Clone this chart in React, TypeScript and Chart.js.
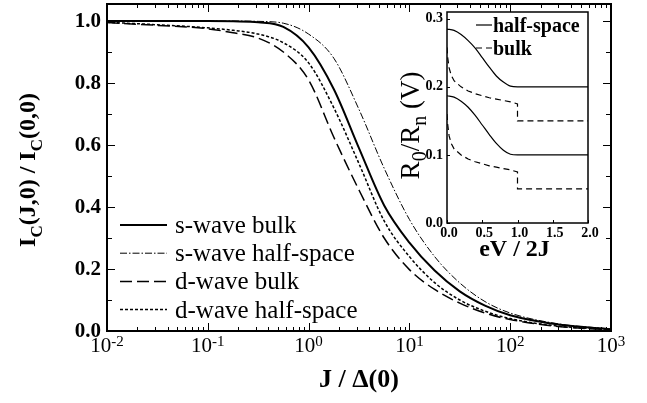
import React, { useEffect, useRef } from "react";
import { Chart, registerables } from "chart.js";

Chart.register(...registerables);

const SERIF = "'Liberation Serif', 'Times New Roman', serif";

// ---------- Main chart data ----------
const J_VALUES = [0.01, 0.0316, 0.1, 0.178, 0.316, 0.562, 1, 1.78, 3.16, 5.62, 10, 17.8, 31.6, 56.2, 100, 316, 1000];
const S_WAVE_BULK = [1.0, 1.0, 1.0, 0.999, 0.996, 0.981, 0.915, 0.78, 0.59, 0.405, 0.285, 0.195, 0.128, 0.082, 0.051, 0.02, 0.006];
const S_WAVE_HALF = [1.0, 1.0, 1.0, 1.0, 0.999, 0.993, 0.958, 0.88, 0.715, 0.525, 0.36, 0.24, 0.155, 0.095, 0.058, 0.022, 0.007];
const D_WAVE_BULK = [0.995, 0.986, 0.975, 0.962, 0.945, 0.9, 0.81, 0.625, 0.455, 0.3, 0.198, 0.134, 0.09, 0.058, 0.037, 0.014, 0.004];
const D_WAVE_HALF = [0.996, 0.988, 0.978, 0.97, 0.958, 0.93, 0.865, 0.72, 0.54, 0.355, 0.24, 0.156, 0.1, 0.064, 0.04, 0.015, 0.005];
const MAIN_LABELS = ["s-wave bulk", "s-wave half-space", "d-wave bulk", "d-wave half-space"];

const X_DECADE_EXPONENTS = [-2, -1, 0, 1, 2, 3];
const X_MINOR_MULTIPLIERS = [2, 3, 4, 5, 6, 7, 8, 9];
const Y_MAJOR_TICKS = [0, 0.2, 0.4, 0.6, 0.8, 1.0];
const Y_MAJOR_LABELS = ["0.0", "0.2", "0.4", "0.6", "0.8", "1.0"];
const Y_MINOR_TICKS = [0.1, 0.3, 0.5, 0.7, 0.9];

// ---------- Inset data ----------
const HS_X = [0, 0.1, 0.2, 0.3, 0.4, 0.5, 0.6, 0.7, 0.8, 0.9, 1.0, 2.0];
const HS_UPPER = [0.285, 0.283, 0.277, 0.268, 0.257, 0.243, 0.229, 0.216, 0.207, 0.201, 0.2, 0.2];
const HS_LOWER = [0.187, 0.185, 0.179, 0.17, 0.158, 0.144, 0.13, 0.117, 0.107, 0.101, 0.1, 0.1];
const BULK_X = [0, 0.01, 0.03, 0.06, 0.1, 0.2, 0.3, 0.4, 0.5, 0.6, 0.7, 0.8, 0.9, 1.0, 1.0, 2.0];
const BULK_UPPER = [0.258, 0.243, 0.228, 0.217, 0.209, 0.2, 0.194, 0.19, 0.187, 0.184, 0.182, 0.18, 0.178, 0.175, 0.15, 0.15];
const BULK_LOWER = [0.16, 0.145, 0.128, 0.117, 0.109, 0.1, 0.094, 0.09, 0.087, 0.084, 0.082, 0.08, 0.078, 0.075, 0.05, 0.05];
const INSET_LEGEND = ["half-space", "bulk"];
const INSET_X_TICKS = [0, 0.5, 1.0, 1.5, 2.0];
const INSET_X_LABELS = ["0.0", "0.5", "1.0", "1.5", "2.0"];
const INSET_Y_TICKS = [0, 0.1, 0.2, 0.3];
const INSET_Y_LABELS = ["0.0", "0.1", "0.2", "0.3"];

type Part = { t: string; sub?: boolean };

function drawRich(ctx: CanvasRenderingContext2D, parts: Part[], cx: number, cy: number, size: number, weight: string, rotate: boolean, subScale: number) {
  const subSize = Math.round(size * subScale);
  const fontFor = (p: Part) => `${weight} ${p.sub ? subSize : size}px ${SERIF}`;
  let total = 0;
  const widths = parts.map((p) => {
    ctx.font = fontFor(p);
    const w = ctx.measureText(p.t).width;
    total += w;
    return w;
  });
  ctx.save();
  ctx.translate(cx, cy);
  if (rotate) ctx.rotate(-Math.PI / 2);
  ctx.textBaseline = "alphabetic";
  ctx.textAlign = "left";
  let x = -total / 2;
  const base = size * 0.33;
  parts.forEach((p, i) => {
    ctx.font = fontFor(p);
    ctx.fillText(p.t, x, base + (p.sub ? size * 0.28 : 0));
    x += widths[i];
  });
  ctx.restore();
}

function legendLine(ctx: CanvasRenderingContext2D, ds: any, x1: number, x2: number, y: number) {
  ctx.save();
  ctx.lineWidth = ds.borderWidth;
  ctx.setLineDash(ds.borderDash || []);
  ctx.beginPath();
  ctx.moveTo(x1, y);
  ctx.lineTo(x2, y);
  ctx.stroke();
  ctx.restore();
}

const mainDecor = {
  id: "mainDecor",
  afterDraw(chart: any) {
    const { ctx, chartArea: a, scales } = chart;
    const xs = scales.x;
    const ys = scales.y;
    ctx.save();
    ctx.strokeStyle = "#000";
    ctx.fillStyle = "#000";
    ctx.lineWidth = 1;
    ctx.beginPath();
    X_DECADE_EXPONENTS.forEach((e) => {
      const mults = e === 3 ? [1] : [1, ...X_MINOR_MULTIPLIERS];
      mults.forEach((m) => {
        const px = Math.round(xs.getPixelForValue(m * Math.pow(10, e))) + 0.5;
        const len = m === 1 ? 8 : 4;
        ctx.moveTo(px, a.bottom);
        ctx.lineTo(px, a.bottom - len);
        ctx.moveTo(px, a.top);
        ctx.lineTo(px, a.top + len);
      });
    });
    const yt = (v: number, len: number) => {
      const py = Math.round(ys.getPixelForValue(v)) + 0.5;
      ctx.moveTo(a.left, py);
      ctx.lineTo(a.left + len, py);
      ctx.moveTo(a.right, py);
      ctx.lineTo(a.right - len, py);
    };
    Y_MAJOR_TICKS.forEach((v) => yt(v, 8));
    Y_MINOR_TICKS.forEach((v) => yt(v, 5));
    ctx.stroke();
    ctx.lineWidth = 2;
    ctx.strokeRect(a.left, a.top, a.right - a.left, a.bottom - a.top);

    // y tick labels
    ctx.font = `bold 21px ${SERIF}`;
    ctx.textAlign = "right";
    ctx.textBaseline = "middle";
    Y_MAJOR_TICKS.forEach((v, i) => {
      ctx.fillText(Y_MAJOR_LABELS[i], a.left - 6, ys.getPixelForValue(v) + 1);
    });

    // x tick labels: 10^e
    ctx.textAlign = "left";
    ctx.textBaseline = "alphabetic";
    X_DECADE_EXPONENTS.forEach((e) => {
      const px = xs.getPixelForValue(Math.pow(10, e));
      ctx.font = `21px ${SERIF}`;
      const w1 = ctx.measureText("10").width;
      ctx.font = `15px ${SERIF}`;
      const ex = String(e);
      const w2 = ctx.measureText(ex).width;
      const start = px - (w1 + w2) / 2;
      ctx.font = `21px ${SERIF}`;
      ctx.fillText("10", start, a.bottom + 21);
      ctx.font = `15px ${SERIF}`;
      ctx.fillText(ex, start + w1, a.bottom + 15);
    });

    // axis titles
    ctx.font = `bold 26px ${SERIF}`;
    ctx.textAlign = "center";
    ctx.textBaseline = "middle";
    ctx.fillText("J / \u0394(0)", (a.left + a.right) / 2, a.bottom + 49);
    drawRich(
      ctx,
      [{ t: "I" }, { t: "C", sub: true }, { t: "(J,0) / I" }, { t: "C", sub: true }, { t: "(0,0)" }],
      27,
      170,
      24,
      "bold",
      true,
      0.7
    );

    // legend
    const ds = chart.data.datasets;
    ds.forEach((d: any, i: number) => {
      const y = 225 + i * 28.2;
      legendLine(ctx, d, a.left + 13, a.left + 60, y);
      ctx.font = `25px ${SERIF}`;
      ctx.textAlign = "left";
      ctx.textBaseline = "alphabetic";
      ctx.fillText(d.label, a.left + 68, y + 8);
    });
    ctx.restore();
  },
};

const insetDecor = {
  id: "insetDecor",
  beforeDatasetsDraw(chart: any) {
    const { ctx, chartArea: a } = chart;
    ctx.save();
    ctx.fillStyle = "#fff";
    ctx.fillRect(a.left, a.top, a.right - a.left, a.bottom - a.top);
    ctx.restore();
  },
  afterDraw(chart: any) {
    const { ctx, chartArea: a, scales } = chart;
    const xs = scales.x;
    const ys = scales.y;
    ctx.save();
    ctx.strokeStyle = "#000";
    ctx.fillStyle = "#000";
    ctx.lineWidth = 1;
    ctx.beginPath();
    INSET_X_TICKS.forEach((v) => {
      const px = Math.round(xs.getPixelForValue(v)) + 0.5;
      ctx.moveTo(px, a.bottom);
      ctx.lineTo(px, a.bottom - 3);
    });
    INSET_Y_TICKS.forEach((v) => {
      const py = Math.round(ys.getPixelForValue(v)) + 0.5;
      ctx.moveTo(a.left, py);
      ctx.lineTo(a.left + 3, py);
    });
    ctx.stroke();
    ctx.lineWidth = 1.5;
    ctx.strokeRect(a.left, a.top, a.right - a.left, a.bottom - a.top);

    ctx.font = `bold 14px ${SERIF}`;
    ctx.textAlign = "right";
    ctx.textBaseline = "middle";
    INSET_Y_TICKS.forEach((v, i) => ctx.fillText(INSET_Y_LABELS[i], a.left - 4, ys.getPixelForValue(v)));
    ctx.textAlign = "center";
    ctx.textBaseline = "top";
    INSET_X_TICKS.forEach((v, i) => ctx.fillText(INSET_X_LABELS[i], xs.getPixelForValue(v) + 2, a.bottom + 3));

    ctx.font = `bold 24px ${SERIF}`;
    ctx.textBaseline = "middle";
    ctx.fillText("eV / 2J", (a.left + a.right) / 2 - 3, a.bottom + 27);
    drawRich(
      ctx,
      [{ t: "R" }, { t: "0", sub: true }, { t: "/R" }, { t: "n", sub: true }, { t: " (V)" }],
      a.left - 37,
      (a.top + a.bottom) / 2 + 8,
      27,
      "normal",
      true,
      0.75
    );

    // inset legend
    const ds = chart.data.datasets;
    [ds[0], ds[2]].forEach((d: any, i: number) => {
      const y = a.top + 13 + i * 23;
      legendLine(ctx, d, a.left + 29, a.left + 45, y);
      ctx.font = `bold 20px ${SERIF}`;
      ctx.textAlign = "left";
      ctx.textBaseline = "alphabetic";
      ctx.fillText(INSET_LEGEND[i], a.left + 46, y + 7);
    });
    ctx.restore();
  },
};

function pts(xs: number[], ys: number[]) {
  return xs.map((x, i) => ({ x, y: ys[i] }));
}

export default function App() {
  const mainRef = useRef<HTMLCanvasElement>(null);
  const insetRef = useRef<HTMLCanvasElement>(null);

  useEffect(() => {
    const mainCfg: any = {
      type: "line",
      data: {
        datasets: [
          { label: MAIN_LABELS[0], data: pts(J_VALUES, S_WAVE_BULK), borderColor: "#000", borderWidth: 2, borderDash: [], cubicInterpolationMode: "monotone" },
          { label: MAIN_LABELS[1], data: pts(J_VALUES, S_WAVE_HALF), borderColor: "#000", borderWidth: 1, borderDash: [7, 2, 1.5, 2], cubicInterpolationMode: "monotone" },
          { label: MAIN_LABELS[2], data: pts(J_VALUES, D_WAVE_BULK), borderColor: "#000", borderWidth: 1.5, borderDash: [12, 5], cubicInterpolationMode: "monotone" },
          { label: MAIN_LABELS[3], data: pts(J_VALUES, D_WAVE_HALF), borderColor: "#000", borderWidth: 1.5, borderDash: [3, 2], cubicInterpolationMode: "monotone" },
        ],
      },
      options: {
        animation: false,
        responsive: false,
        devicePixelRatio: 1,
        layout: { padding: { left: 107, top: 4, right: 36, bottom: 72 } },
        plugins: { legend: { display: false }, tooltip: { enabled: false } },
        elements: { point: { radius: 0 } },
        scales: {
          x: { type: "logarithmic", min: 0.01, max: 1000, display: false },
          y: { type: "linear", min: 0, max: 1.055, display: false },
        },
      },
      plugins: [mainDecor],
    };
    const insetCfg: any = {
      type: "line",
      data: {
        datasets: [
          { label: INSET_LEGEND[0], data: pts(HS_X, HS_UPPER), borderColor: "#000", borderWidth: 1.2, borderDash: [], cubicInterpolationMode: "monotone" },
          { label: INSET_LEGEND[0], data: pts(HS_X, HS_LOWER), borderColor: "#000", borderWidth: 1.2, borderDash: [], cubicInterpolationMode: "monotone" },
          { label: INSET_LEGEND[1], data: pts(BULK_X, BULK_UPPER), borderColor: "#000", borderWidth: 1.2, borderDash: [6, 4], tension: 0 },
          { label: INSET_LEGEND[1], data: pts(BULK_X, BULK_LOWER), borderColor: "#000", borderWidth: 1.2, borderDash: [6, 4], tension: 0 },
        ],
      },
      options: {
        animation: false,
        responsive: false,
        devicePixelRatio: 1,
        layout: { padding: { left: 67, top: 12, right: 22, bottom: 47 } },
        plugins: { legend: { display: false }, tooltip: { enabled: false } },
        elements: { point: { radius: 0 } },
        scales: {
          x: { type: "linear", min: 0, max: 2, display: false },
          y: { type: "linear", min: 0, max: 0.31, display: false },
        },
      },
      plugins: [insetDecor],
    };
    const c1 = new Chart(mainRef.current as HTMLCanvasElement, mainCfg);
    const c2 = new Chart(insetRef.current as HTMLCanvasElement, insetCfg);
    return () => {
      c1.destroy();
      c2.destroy();
    };
  }, []);

  return (
    <div style={{ position: "absolute", left: 0, top: 0, width: 647, height: 403, background: "#fff" }}>
      <canvas ref={mainRef} width={647} height={403} style={{ position: "absolute", left: 0, top: 0, width: 647, height: 403 }} />
      <canvas ref={insetRef} width={230} height={270} style={{ position: "absolute", left: 380, top: 0, width: 230, height: 270 }} />
    </div>
  );
}
